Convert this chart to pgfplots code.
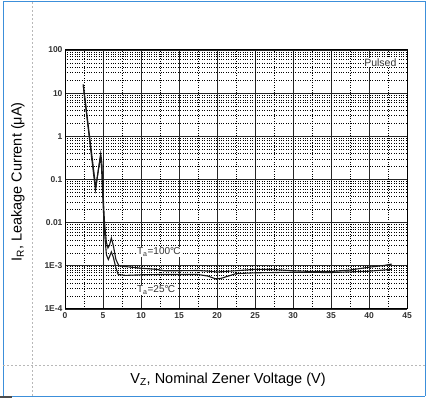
\documentclass[border=0pt]{standalone}
\usepackage{fontspec}
\setmainfont{Liberation Sans}
\usepackage{pgfplots}
\pgfplotsset{compat=1.18}
\definecolor{frameblue}{HTML}{3C8FDA}
\definecolor{dashgray}{HTML}{B8B8B8}
\begin{document}
\begin{tikzpicture}[x=1pt,y=1pt]
\useasboundingbox (0,0) rectangle (428,398);
\draw[frameblue, line width=1pt] (3,2) -- (3,396) -- (425,396) -- (425,2);
\draw[frameblue, line width=1pt] (12,1.5) -- (425,1.5);
\draw[black!70, line width=1.2pt] (0,1) -- (12,1);
\draw[dashgray, line width=0.6pt, dash pattern=on 2pt off 2pt] (32,2) -- (32,396);
\draw[dashgray, line width=0.6pt, dash pattern=on 2pt off 2pt] (3,33) -- (425,33);
\begin{axis}[at={(65pt,89pt)}, anchor=south west, scale only axis,
  width=342pt, height=259pt,
  xmin=0, xmax=45, ymode=log, ymin=1e-4, ymax=100,
  xtick={0,5,...,45},
  ytick={1e-4,1e-3,0.01,0.1,1,10,100},
  yticklabels={1E-4,1E-3,0.01,0.1,1,10,100},
  minor x tick num=1,
  grid=both,
  major grid style={black!85, line width=0.9pt},
  minor grid style={black, line width=0.6pt, dash pattern=on 0.9pt off 1.5pt},
  tick style={draw=none},
  axis line style={black, line width=1pt},
  /pgf/number format/assume math mode=true,
  every tick label/.append style={font=\fontsize{8.5}{10}\selectfont\bfseries, text=black!80},
  yticklabel style={xshift=1pt},
  clip=false]
\addplot[black!90, line width=1.1pt] coordinates {
(2.4,16) (4.05,0.065) (4.7,0.4) (4.85,0.25) (5.0,0.05) (5.2,0.01) (5.45,0.0035)
(5.65,0.0026) (5.85,0.003) (6.1,0.0044) (6.35,0.003) (6.7,0.0014) (7.1,0.001)
(8,0.00096) (10,0.00088) (12,0.00083) (13,0.00077) (15,0.00077) (17.5,0.00078)
(19,0.00075) (20,0.00072) (21,0.00074) (22.5,0.00077) (25,0.00083) (27.5,0.00082)
(30,0.00077) (32.5,0.00074) (35,0.00074) (37.5,0.0008) (40,0.00093) (42,0.00102) (43,0.0011)};
\addplot[black!90, line width=1.1pt] coordinates {
(2.4,15) (4.0,0.058) (4.65,0.33) (4.8,0.2) (5.0,0.03) (5.2,0.006) (5.45,0.0018)
(5.7,0.0014) (5.9,0.0017) (6.1,0.0021) (6.35,0.0016) (6.7,0.0009) (7.0,0.00063)
(8,0.0006) (10,0.00062) (12.5,0.00063) (15,0.00063) (17.5,0.00063) (18.8,0.00058)
(19.8,0.0005) (20.5,0.00051) (21.5,0.00058) (22.5,0.00066) (25,0.00069)
(30,0.00071) (35,0.0007) (40,0.00075) (43,0.00083)};
\node[anchor=west, font=\fontsize{10}{11}\selectfont, text=black!80, fill=white, inner sep=0.5pt] at (axis cs:9.4,0.0021) {T\textsubscript{a}=100°\kern-0.08em C};
\node[anchor=west, font=\fontsize{10}{11}\selectfont, text=black!80, fill=white, inner sep=0.5pt] at (axis cs:9.4,0.000275) {T\textsubscript{a}=25°\kern-0.08em C};
\node[anchor=east, font=\fontsize{10.5}{11}\selectfont, text=black!80, fill=white, inner sep=0.5pt] at (axis cs:43.7,52) {Pulsed};
\end{axis}
\node[rotate=90, font=\fontsize{14.5}{15}\selectfont] at (18,216) {I\textsubscript{R}, Leakage Current (μA)};
\node[font=\fontsize{14.5}{15}\selectfont] at (228,18) {V\textsubscript{Z}, Nominal Zener Voltage (V)};
\end{tikzpicture}
\end{document}
